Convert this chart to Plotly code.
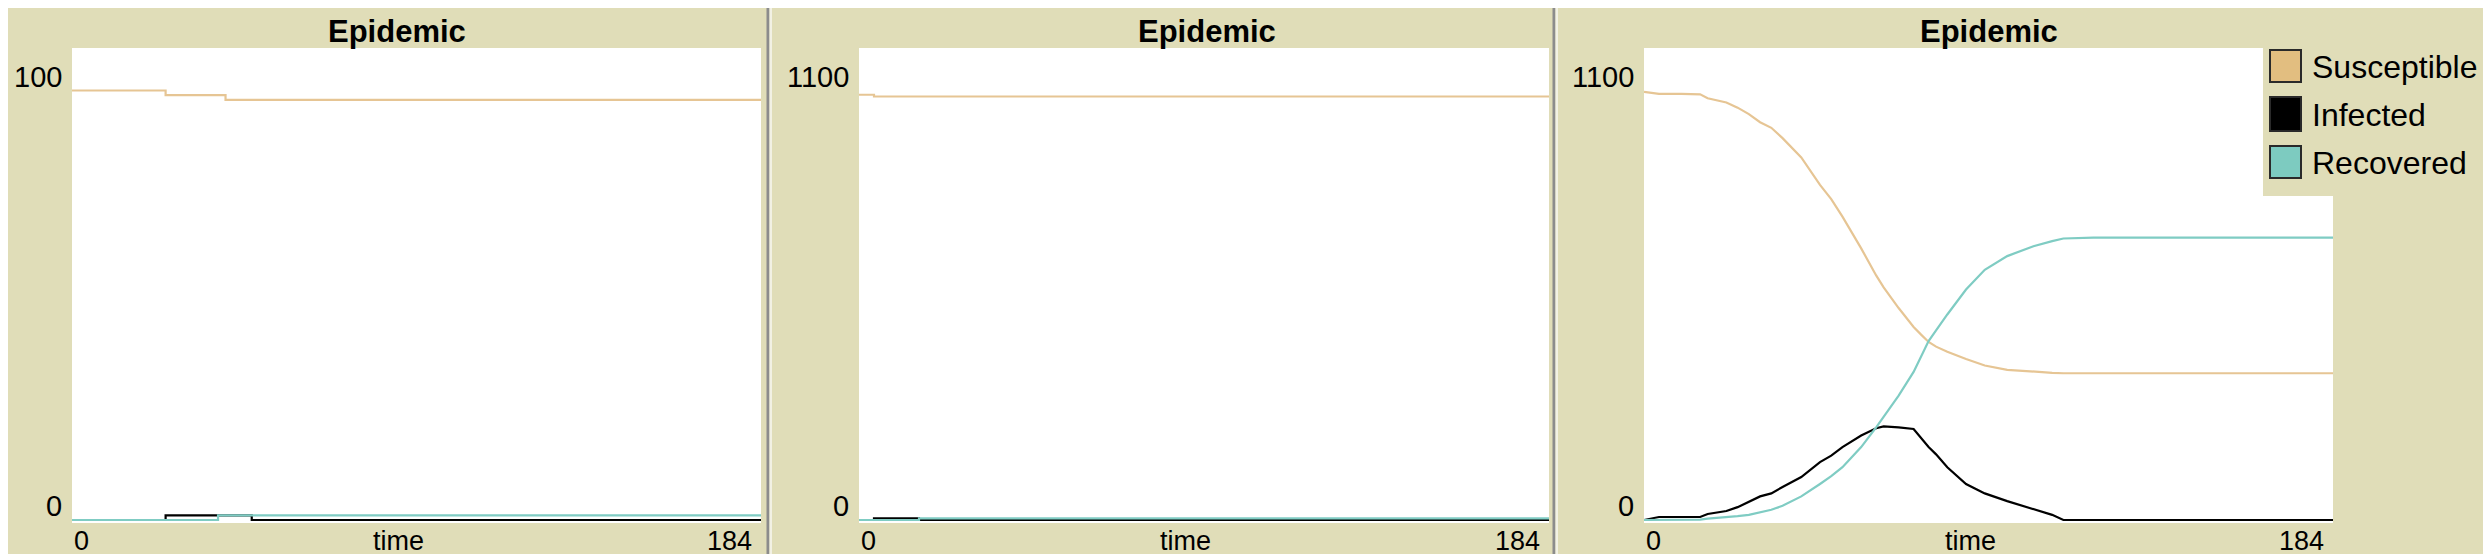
import plotly.graph_objects as go

W, H = 2491, 554

# ---------------- data ----------------
# Panel 1 (y max 100)
t1 = [0, 25, 39, 41, 48, 184]
S1 = [91, 90, 90, 89, 89, 89]
I1 = [0, 1, 1, 1, 0, 0]
R1 = [0, 0, 1, 1, 1, 1]

# Panel 2 (y max 1100)
t2 = [0, 4, 16, 184]
S2 = [991, 987, 987, 987]
I2 = [0, 4, 0, 0]
R2 = [0, 0, 4, 4]

# Panel 3 (y max 1100)
t3 = [0, 4, 10, 15, 17, 22, 25, 28, 31, 34, 37, 42, 47, 50, 53, 58, 62, 64,
      68, 72, 74, 76, 78, 81, 86, 91, 97, 104, 109, 112, 120, 184]
S3 = [998, 993, 993, 992, 983, 973, 961, 946, 927, 914, 890, 845, 781, 748,
      707, 633, 570, 542, 494, 450, 432, 415, 404, 392, 375, 360, 350, 345,
      343, 342, 342, 342]
I3 = [0, 7, 7, 7, 14, 21, 30, 42, 55, 62, 77, 100, 135, 150, 170, 197, 214,
      218, 216, 212, 190, 170, 153, 123, 84, 62, 44, 25, 12, 0, 0, 0]
R3 = [0, 0, 0, 1, 3, 6, 9, 12, 18, 24, 33, 55, 84, 102, 123, 170, 216, 240,
      290, 345, 381, 417, 442, 479, 537, 583, 615, 638, 650, 656, 658, 658]

series_names = ["Susceptible", "Infected", "Recovered"]
x_max = 184
y_max = [100, 1100, 1100]
x_tick_labels = ["0", "184"]
y_tick_labels = [["0", "100"], ["0", "1100"], ["0", "1100"]]

# ---------------- style ----------------
BG = "#E0DDB8"
LINE_COL = ["#E6C594", "#000000", "#7FCCC3"]
SWATCH_COL = ["#E2BE80", "#000000", "#7DCBC0"]
FONT = "Liberation Sans, Arial, sans-serif"

# plot-area pixel geometry (left, right) per panel, shared top/bottom
panels_px = [(64, 753), (851, 1541), (1636, 2325)]
top_px, zero_px, bottom_px = 40, 512, 515
title_x = [389, 1199, 1981]

def px_x(px):
    return px / W

def px_y(py):
    return 1 - py / H

fig = go.Figure()

data = [(t1, [S1, I1, R1], "hv"), (t2, [S2, I2, R2], "hv"), (t3, [S3, I3, R3], "linear")]
for k, (t, ys, shape) in enumerate(data):
    xa = "x" if k == 0 else f"x{k+1}"
    ya = "y" if k == 0 else f"y{k+1}"
    for j, (name, yv) in enumerate(zip(series_names, ys)):
        fig.add_trace(go.Scatter(
            x=t, y=yv, mode="lines", name=name, showlegend=False,
            line=dict(color=LINE_COL[j], width=2.2, shape=shape),
            xaxis=xa, yaxis=ya, hoverinfo="skip"))

layout = dict(width=W, height=H, margin=dict(l=0, r=0, t=0, b=0),
              paper_bgcolor=BG, plot_bgcolor="white", showlegend=False)
for k, (l, r) in enumerate(panels_px):
    ppu = (zero_px - top_px) / y_max[k]
    ymin = -(bottom_px - zero_px) / ppu
    sfx = "" if k == 0 else str(k + 1)
    layout["xaxis" + sfx] = dict(domain=[px_x(l), px_x(r)], range=[0, x_max],
                                 showgrid=False, zeroline=False, showticklabels=False,
                                 showline=False, anchor="y" + sfx, fixedrange=True)
    layout["yaxis" + sfx] = dict(domain=[px_y(bottom_px), px_y(top_px)],
                                 range=[ymin, y_max[k]], showgrid=False, zeroline=False,
                                 showticklabels=False, showline=False,
                                 anchor="x" + sfx, fixedrange=True)
fig.update_layout(**layout)

ann = []
def text(px, py, s, size=29, anchor="center", bold=False):
    ann.append(dict(x=px_x(px), y=px_y(py), xref="paper", yref="paper", text=s,
                    showarrow=False, xanchor=anchor, yanchor="middle",
                    font=dict(family=FONT, size=size, color="black",
                              weight="bold" if bold else "normal")))

for k, (l, r) in enumerate(panels_px):
    text(title_x[k], 24, "Epidemic", size=31, bold=True)
    text(l - 8, 69, y_tick_labels[k][1], anchor="right")
    text(l - 8, 498, y_tick_labels[k][0], anchor="right")
    text(l, 533, x_tick_labels[0], size=27, anchor="left")
    text(r - 7, 533, x_tick_labels[1], size=27, anchor="right")
    text(l + 326, 533, "time", size=27)

shapes = []
# panel separators
for xb in (760, 1546):
    shapes.append(dict(type="rect", xref="paper", yref="paper", x0=px_x(xb - 1.5), x1=px_x(xb + 1.5),
                       y0=0, y1=1, fillcolor="#8C8C8C", line=dict(width=0), layer="above"))
    shapes.append(dict(type="rect", xref="paper", yref="paper", x0=px_x(xb + 1.5), x1=px_x(xb + 4),
                       y0=0, y1=1, fillcolor="#F2F1E4", line=dict(width=0), layer="above"))
shapes.append(dict(type="rect", xref="paper", yref="paper", x0=0, x1=1, y0=0, y1=px_y(552),
                   fillcolor="#9A9A94", line=dict(width=0), layer="above"))

# legend box (panel 3)
shapes.append(dict(type="rect", xref="paper", yref="paper", x0=px_x(2255), x1=1,
                   y0=px_y(188), y1=px_y(40), fillcolor=BG, line=dict(width=0), layer="above"))
sw_y = [(42, 74), (89, 123), (138, 170)]
for j, name in enumerate(series_names):
    y0, y1 = sw_y[j]
    shapes.append(dict(type="rect", xref="paper", yref="paper", x0=px_x(2262), x1=px_x(2293),
                       y0=px_y(y1), y1=px_y(y0), fillcolor=SWATCH_COL[j],
                       line=dict(color="#2A2A2A", width=2), layer="above"))
    text(2302, (y0 + y1) / 2 + 1, name, size=32, anchor="left")

fig.update_layout(annotations=ann, shapes=shapes)
fig.write_html("out.html")
